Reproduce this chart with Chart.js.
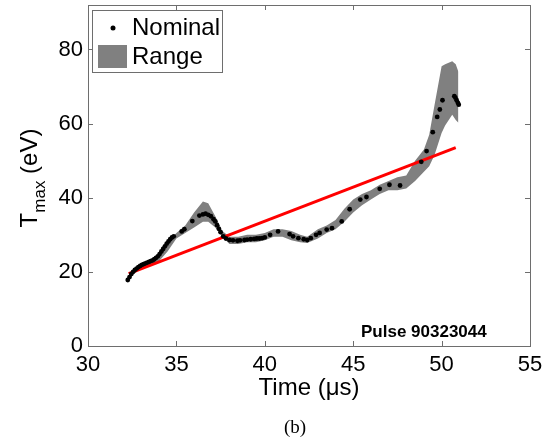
<!DOCTYPE html>
<html>
<head>
<meta charset="utf-8">
<script src="https://cdn.jsdelivr.net/npm/chart.js@4/dist/chart.umd.min.js"></script>
<style>
  html, body { margin: 0; padding: 0; background: #fff; }
  #wrap { width: 556px; height: 443px; }
</style>
</head>
<body>
<div id="wrap"><canvas id="tmaxChart" width="556" height="443"></canvas></div>
<script>
// nominal Tmax points (time in us, Tmax in eV)
var nomTime = [32.25, 32.35, 32.45, 32.55, 32.65, 32.75, 32.85, 32.95, 33.05, 33.15, 33.25, 33.35,
    33.45, 33.55, 33.65, 33.75, 33.85, 33.95, 34.05, 34.15, 34.25, 34.35, 34.45, 34.55, 34.65, 34.75, 34.85,
    35.3, 35.45, 35.9, 36.3, 36.5, 36.65, 36.8, 36.95, 37.1, 37.2, 37.3, 37.4, 37.5, 37.65, 37.8,
    38.0, 38.2, 38.45, 38.6, 38.85, 39.0, 39.2, 39.4, 39.55, 39.7, 39.85, 40.0, 40.3, 40.75,
    41.4, 41.6, 41.9, 42.2, 42.4, 42.6, 42.9, 43.1, 43.5, 43.8, 44.35, 44.8, 45.4, 45.75,
    46.5, 47.05, 47.65, 48.85, 49.15, 49.5, 49.75, 49.9, 50.05, 50.72, 50.78, 50.85, 50.92, 50.97];
var nomTmax = [17.8, 18.6, 19.4, 20.0, 20.5, 20.9, 21.3, 21.6, 21.9, 22.1, 22.3, 22.5,
    22.7, 22.9, 23.1, 23.4, 23.8, 24.2, 24.8, 25.5, 26.2, 26.9, 27.6, 28.2, 28.8, 29.3, 29.6,
    30.9, 31.5, 33.7, 35.2, 35.5, 35.7, 35.4, 35.0, 34.2, 33.6, 32.6, 31.6, 30.7, 29.6, 29.0,
    28.6, 28.5, 28.4, 28.5, 28.6, 28.7, 28.8, 28.9, 29.0, 29.0, 29.1, 29.3, 30.0, 30.9,
    30.2, 29.6, 29.1, 28.8, 28.6, 29.1, 30.0, 30.5, 31.4, 31.8, 33.6, 36.9, 39.5, 40.2,
    42.4, 43.5, 43.3, 49.7, 52.6, 57.7, 61.8, 63.8, 66.3, 67.4, 67.0, 66.3, 65.6, 65.1];

// range band
var rangeTime = [32.2, 32.6, 33.0, 33.5, 34.0, 34.5, 35.0, 35.5, 36.0, 36.5, 36.8, 37.2, 37.6, 38.0,
    38.5, 39.0, 39.5, 40.0, 40.5, 41.0, 41.5, 42.0, 42.4, 43.0, 43.5, 44.0, 44.5, 45.0, 45.5, 46.0,
    46.5, 47.0, 47.5, 48.0, 48.5, 49.0, 49.3, 49.6, 50.0, 50.2, 50.6, 50.8, 50.95];
var rangeLow = [17.5, 19.5, 20.8, 21.8, 22.8, 25.5, 29.0, 30.5, 32.0, 33.5, 33.5, 32.0, 29.5, 27.5,
    27.5, 28.0, 28.0, 28.5, 29.5, 29.5, 28.5, 28.0, 27.8, 29.0, 30.5, 31.5, 33.5, 36.0, 38.0, 39.5,
    41.0, 42.0, 42.0, 42.5, 44.5, 47.0, 48.5, 51.5, 57.5, 59.5, 62.4, 61.0, 60.2];
var rangeHigh = [18.5, 20.5, 22.0, 23.0, 24.5, 28.0, 30.5, 32.5, 36.0, 39.0, 38.5, 35.0, 31.0, 29.5,
    29.5, 30.0, 30.0, 30.5, 31.5, 31.5, 31.0, 30.0, 29.5, 31.5, 32.5, 34.0, 37.0, 39.5, 41.0, 42.0,
    43.5, 44.5, 45.5, 46.0, 50.0, 53.0, 57.0, 65.0, 75.5, 76.0, 76.8, 76.0, 74.0];

// linear fit
var fitTime = [32.3, 50.8];
var fitTmax = [19.5, 53.5];

var xTicks = [30, 35, 40, 45, 50, 55];
var yTicks = [0, 20, 40, 60, 80];

function pts(xs, ys) {
    return xs.map(function (x, i) { return {x: x, y: ys[i]}; });
}

var sans = '"Liberation Sans", Arial, sans-serif';
var axisGray = '#6e6e6e';

var decor = {
    id: 'decor',
    afterDraw: function (chart) {
        var c = chart.ctx, a = chart.chartArea;
        var xs = chart.scales.x, ys = chart.scales.y;
        c.save();
        // box + inward ticks
        c.strokeStyle = axisGray;
        c.lineWidth = 1;
        c.strokeRect(Math.round(a.left) + 0.5, Math.round(a.top) + 0.5,
            Math.round(a.right - a.left), Math.round(a.bottom - a.top));
        c.beginPath();
        xTicks.forEach(function (v) {
            var px = Math.round(xs.getPixelForValue(v)) + 0.5;
            c.moveTo(px, a.bottom); c.lineTo(px, a.bottom - 5);
            c.moveTo(px, a.top); c.lineTo(px, a.top + 5);
        });
        yTicks.forEach(function (v) {
            var py = Math.round(ys.getPixelForValue(v)) + 0.5;
            c.moveTo(a.left, py); c.lineTo(a.left + 5, py);
            c.moveTo(a.right, py); c.lineTo(a.right - 5, py);
        });
        c.stroke();

        // legend
        c.fillStyle = '#fff';
        c.fillRect(92.5, 10.5, 130, 62);
        c.strokeRect(92.5, 10.5, 130, 62);
        c.fillStyle = '#000';
        c.beginPath(); c.arc(113, 28, 2.5, 0, Math.PI * 2); c.fill();
        c.fillStyle = '#808080';
        c.fillRect(98, 45, 29, 23);
        c.fillStyle = '#000';
        c.font = '24px ' + sans;
        c.textBaseline = 'middle';
        c.textAlign = 'left';
        c.fillText('Nominal', 132, 28);
        c.fillText('Range', 132, 57);

        // pulse label
        c.font = 'bold 17px ' + sans;
        c.fillText('Pulse 90323044', 361, 332);

        // x title
        c.font = '24px ' + sans;
        c.textAlign = 'center';
        c.textBaseline = 'alphabetic';
        c.fillText('Time (\u03bcs)', (a.left + a.right) / 2, 395);

        // y title with subscript
        c.translate(37, 178);
        c.rotate(-Math.PI / 2);
        c.textAlign = 'left';
        var big = '24px ' + sans, small = '17px ' + sans;
        c.font = big; var wT = c.measureText('T').width;
        c.font = small; var wM = c.measureText('max').width;
        c.font = big; var wE = c.measureText(' (eV)').width;
        var x0 = -(wT + wM + wE) / 2;
        c.font = big; c.fillText('T', x0, 0);
        c.font = small; c.fillText('max', x0 + wT, 8);
        c.font = big; c.fillText(' (eV)', x0 + wT + wM, 0);
        c.restore();

        // caption
        c.save();
        c.fillStyle = '#000';
        c.font = '19px "Liberation Serif", "Times New Roman", serif';
        c.textAlign = 'center';
        c.textBaseline = 'middle';
        c.fillText('(b)', 295, 428);
        c.restore();
    }
};

var ctx = document.getElementById('tmaxChart');
var chart = new Chart(ctx, {
    type: 'scatter',
    data: {
        datasets: [{
            label: 'Nominal',
            data: pts(nomTime, nomTmax),
            backgroundColor: '#000',
            borderColor: '#000',
            pointRadius: 2.4,
            pointBorderWidth: 0,
            showLine: false,
            order: 1
        }, {
            label: 'fit',
            data: pts(fitTime, fitTmax),
            showLine: true,
            borderColor: '#ff0000',
            borderWidth: 3,
            pointRadius: 0,
            fill: false,
            order: 2
        }, {
            label: 'high',
            data: pts(rangeTime, rangeHigh),
            showLine: true,
            borderWidth: 0,
            borderColor: 'rgba(0,0,0,0)',
            pointRadius: 0,
            fill: false,
            order: 3
        }, {
            label: 'Range',
            data: pts(rangeTime, rangeLow),
            showLine: true,
            borderWidth: 0,
            borderColor: 'rgba(0,0,0,0)',
            backgroundColor: '#808080',
            pointRadius: 0,
            fill: '-1',
            order: 4
        }]
    },
    options: {
        responsive: false,
        devicePixelRatio: 1,
        animation: false,
        layout: {padding: {left: 0, right: 26, top: 5, bottom: 0}},
        plugins: {
            legend: {display: false},
            tooltip: {enabled: false},
            filler: {propagate: false}
        },
        scales: {
            x: {
                type: 'linear',
                min: 30,
                max: 55,
                grid: {display: false, drawTicks: false},
                border: {display: false},
                ticks: {stepSize: 5, color: '#000', padding: 6, font: {size: 22, family: sans}},
                afterBuildTicks: function (s) { s.ticks = xTicks.map(function (v) { return {value: v}; }); },
                afterFit: function (s) { s.height = 97; s.paddingLeft = 0; s.paddingRight = 0; }
            },
            y: {
                min: 0,
                max: 92,
                grid: {display: false, drawTicks: false},
                border: {display: false},
                ticks: {stepSize: 20, color: '#000', padding: 5, font: {size: 22, family: sans}},
                afterBuildTicks: function (s) { s.ticks = yTicks.map(function (v) { return {value: v}; }); },
                afterFit: function (s) { s.width = 88; s.paddingTop = 0; s.paddingBottom = 0; }
            }
        }
    },
    plugins: [decor]
});
</script>
</body>
</html>
